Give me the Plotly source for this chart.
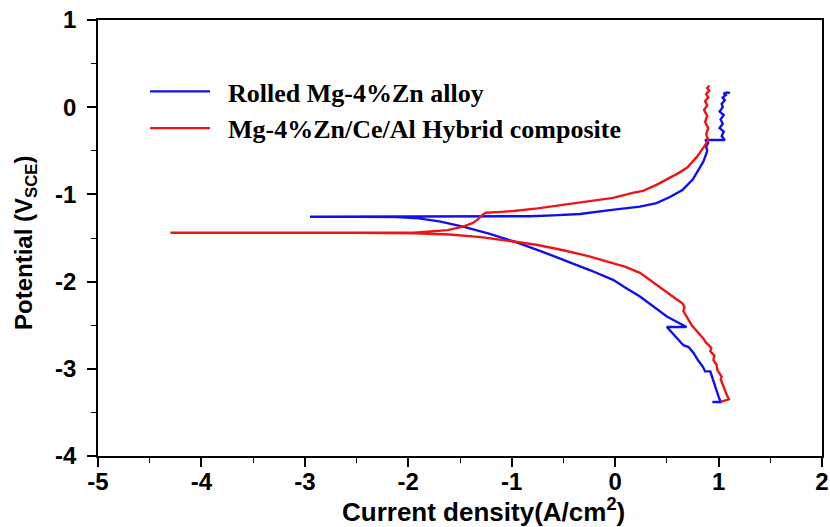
import plotly.graph_objects as go

# Rolled Mg-4%Zn alloy (sweep: cathodic bottom -> Ecorr spike -> anodic top)
blue_x = [0.94, 1.02, 1.00, 0.97, 0.95, 0.92, 0.87, 0.85, 0.80, 0.76, 0.71, 0.66, 0.50, 0.69,
          0.50, 0.38, 0.24, 0.10, -0.02, -0.24, -0.50, -0.72, -0.98, -1.22, -1.47, -1.70, -1.90,
          -2.11, -2.50, -2.95, -2.50, -2.11, -1.50, -1.00, -0.82, -0.60, -0.34, -0.05, 0.24, 0.40,
          0.53, 0.65, 0.75, 0.82, 0.85, 0.87, 0.89, 0.88, 0.90, 0.87, 1.06, 1.03, 1.05, 1.01, 1.04,
          1.02, 1.05, 1.01, 1.04, 1.03, 1.06, 1.04, 1.07, 1.05, 1.09, 1.11]
blue_y = [-3.38, -3.38, -3.32, -3.21, -3.12, -3.03, -3.03, -2.98, -2.90, -2.82, -2.75, -2.73, -2.52, -2.52,
          -2.40, -2.29, -2.17, -2.07, -1.98, -1.87, -1.75, -1.65, -1.54, -1.45, -1.37, -1.31, -1.275,
          -1.26, -1.256, -1.256, -1.256, -1.256, -1.256, -1.255, -1.25, -1.24, -1.225, -1.18, -1.14, -1.10,
          -1.03, -0.95, -0.83, -0.69, -0.63, -0.57, -0.50, -0.45, -0.41, -0.376, -0.376, -0.33, -0.28, -0.24, -0.19,
          -0.14, -0.09, -0.05, 0.0, 0.04, 0.08, 0.11, 0.14, 0.16, 0.17, 0.16]

# Mg-4%Zn/Ce/Al Hybrid composite
red_x = [1.02, 1.10, 1.08, 1.06, 1.04, 1.02, 1.03, 0.99, 0.98, 0.95, 0.96, 0.92, 0.93, 0.88, 0.85,
         0.80, 0.74, 0.70, 0.66, 0.67, 0.65, 0.58, 0.50, 0.38, 0.24, 0.10, -0.02, -0.25, -0.50, -0.75,
         -0.98, -1.30, -1.60, -1.95, -2.50, -3.20, -4.30, -3.20, -2.50, -1.95, -1.62, -1.47, -1.38, -1.33,
         -1.29, -1.25, -1.10, -0.98, -0.75, -0.50, -0.25, -0.02, 0.18, 0.27, 0.40, 0.53, 0.62, 0.70, 0.79,
         0.85, 0.90, 0.88, 0.90, 0.87, 0.89, 0.86, 0.89, 0.87, 0.90, 0.88, 0.91, 0.89, 0.91]
red_y = [-3.38, -3.35, -3.30, -3.24, -3.18, -3.12, -3.09, -3.02, -2.95, -2.90, -2.85, -2.80, -2.76, -2.70, -2.65,
         -2.58, -2.50, -2.42, -2.34, -2.29, -2.25, -2.19, -2.12, -2.02, -1.90, -1.83, -1.79, -1.71, -1.64, -1.58,
         -1.54, -1.49, -1.46, -1.445, -1.44, -1.44, -1.44, -1.44, -1.44, -1.44, -1.41, -1.37, -1.33, -1.29,
         -1.24, -1.21, -1.20, -1.19, -1.16, -1.12, -1.08, -1.04, -0.98, -0.96, -0.89, -0.81, -0.75, -0.69, -0.57,
         -0.47, -0.38, -0.31, -0.24, -0.17, -0.10, -0.03, 0.02, 0.07, 0.11, 0.15, 0.19, 0.22, 0.25]

series_names = ["Rolled Mg-4%Zn alloy", "Mg-4%Zn/Ce/Al Hybrid composite"]
x_ticks = [-5, -4, -3, -2, -1, 0, 1, 2]
x_ticktext = ["-5", "-4", "-3", "-2", "-1", "0", "1", "2"]
y_ticks = [-4, -3, -2, -1, 0, 1]
y_ticktext = ["-4", "-3", "-2", "-1", "0", "1"]

NB = "\u00a0\u00a0"

fig = go.Figure()
fig.add_trace(go.Scatter(x=blue_x, y=blue_y, mode="lines", name=NB + series_names[0],
                         line=dict(color="#1010ee", width=2.4)))
fig.add_trace(go.Scatter(x=red_x, y=red_y, mode="lines", name=NB + series_names[1],
                         line=dict(color="#ee1515", width=2.4)))

axis_common = dict(showline=True, linecolor="black", linewidth=1.6, mirror=True,
                   ticks="outside", ticklen=9, tickwidth=1.6, tickcolor="black",
                   showgrid=False, zeroline=False, automargin=False,
                   tickfont=dict(family="Liberation Sans, Arial", size=24, color="black", weight="bold"),
                   minor=dict(ticks="outside", ticklen=5, tickwidth=1.4, tickcolor="black", dtick=0.5))

fig.update_xaxes(range=[-5, 2], tickvals=x_ticks, ticktext=x_ticktext, ticklabelstandoff=-6, **axis_common)
fig.update_yaxes(range=[-4, 1], tickvals=y_ticks, ticktext=y_ticktext, ticklabelstandoff=6, **axis_common)

fig.add_annotation(text="Current density(A/cm<sup>2</sup>)", xref="paper", yref="paper",
                   x=0.532, y=-0.126, xanchor="center", yanchor="middle", showarrow=False,
                   font=dict(family="Liberation Sans, Arial", size=26, color="black", weight="bold"))
fig.add_annotation(text="Potential (V<sub>SCE</sub>)", xref="paper", yref="paper",
                   x=-0.1, y=0.49, xanchor="center", yanchor="middle", showarrow=False,
                   textangle=-90,
                   font=dict(family="Liberation Sans, Arial", size=24, color="black", weight="bold"))

fig.update_layout(
    width=830, height=527,
    margin=dict(l=98, r=8, t=20, b=71),
    plot_bgcolor="white", paper_bgcolor="white",
    showlegend=True,
    legend=dict(x=0.065, y=0.89, xanchor="left", yanchor="top", bgcolor="rgba(0,0,0,0)",
                itemwidth=60, tracegroupgap=0,
                font=dict(family="Liberation Serif, Times New Roman", size=26, color="black", weight="bold")),
)

fig.write_html("out.html", config={"displayModeBar": False},
               post_script="document.body.style.margin='0px';")
